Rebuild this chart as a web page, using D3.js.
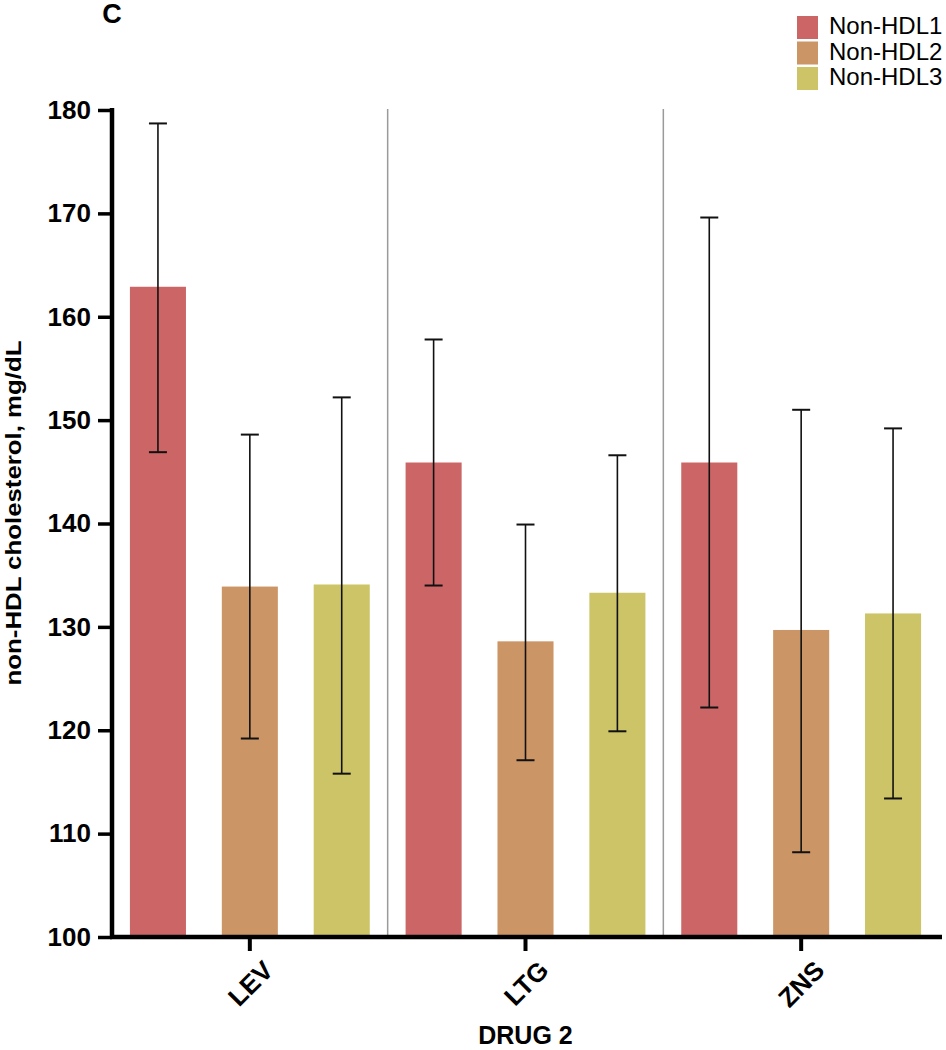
<!DOCTYPE html>
<html>
<head>
<meta charset="utf-8">
<script src="https://cdn.jsdelivr.net/npm/d3@7"></script>
<style>
  html, body { margin: 0; padding: 0; background: #fff; }
  svg { display: block; font-family: "Liberation Sans", Arial, Helvetica, sans-serif; }
</style>
</head>
<body>
<svg id="chart" width="946" height="1050"></svg>
<script>
// ---- data ----
const categories = ["LEV", "LTG", "ZNS"];
const seriesNames = ["Non-HDL1", "Non-HDL2", "Non-HDL3"];
const seriesColors = ["#cc6666", "#cc9566", "#ccc466"];
const meanHDL1 = [162.9, 145.9, 145.9];
const meanHDL2 = [133.9, 128.6, 129.7];
const meanHDL3 = [134.1, 133.3, 131.3];
const upperHDL1 = [178.7, 157.8, 169.6];
const upperHDL2 = [148.6, 139.9, 151.0];
const upperHDL3 = [152.2, 146.6, 149.2];
const lowerHDL1 = [146.9, 134.0, 122.2];
const lowerHDL2 = [119.2, 117.1, 108.2];
const lowerHDL3 = [115.8, 119.9, 113.4];
const yTicks = [100, 110, 120, 130, 140, 150, 160, 170, 180];
const yLabel = "non-HDL cholesterol, mg/dL";
const xLabel = "DRUG 2";
const panelLabel = "C";

const means = [meanHDL1, meanHDL2, meanHDL3];
const uppers = [upperHDL1, upperHDL2, upperHDL3];
const lowers = [lowerHDL1, lowerHDL2, lowerHDL3];

const rows = [];
categories.forEach((c, ci) => {
  seriesNames.forEach((s, si) => {
    rows.push({cat: c, series: s, si, mean: means[si][ci], hi: uppers[si][ci], lo: lowers[si][ci]});
  });
});

// ---- layout ----
const svg = d3.select("#chart");
const mLeft = 112, mRight = 939, mTop = 110, mBottom = 937;

const x0 = d3.scaleBand().domain(categories).range([mLeft, mRight]).padding(0);
const x1 = d3.scaleBand().domain(seriesNames).range([0, x0.bandwidth()]).padding(0);
const barW = x1.bandwidth() * 0.61;
const y = d3.scaleLinear().domain([100, 180]).range([mBottom, mTop]);
const color = d3.scaleOrdinal().domain(seriesNames).range(seriesColors);

// group dividers
svg.append("g").selectAll("line")
  .data(categories.slice(1))
  .join("line")
  .attr("x1", d => x0(d)).attr("x2", d => x0(d))
  .attr("y1", y(180) - 1).attr("y2", mBottom)
  .attr("stroke", "#9a9a9a").attr("stroke-width", 1.5);

// bars
svg.append("g").selectAll("rect")
  .data(rows)
  .join("rect")
  .attr("x", d => x0(d.cat) + x1(d.series) + (x1.bandwidth() - barW) / 2)
  .attr("width", barW)
  .attr("y", d => y(d.mean))
  .attr("height", d => y(100) - y(d.mean))
  .attr("fill", d => color(d.series));

// error bars
const eb = svg.append("g").attr("stroke", "#111");
const cx = d => x0(d.cat) + x1(d.series) + x1.bandwidth() / 2;
eb.selectAll("line.v").data(rows).join("line").attr("class", "v")
  .attr("x1", cx).attr("x2", cx)
  .attr("y1", d => y(d.hi)).attr("y2", d => y(d.lo))
  .attr("stroke-width", 1.6);
eb.selectAll("line.ct").data(rows).join("line").attr("class", "ct")
  .attr("x1", d => cx(d) - 9).attr("x2", d => cx(d) + 9)
  .attr("y1", d => y(d.hi)).attr("y2", d => y(d.hi))
  .attr("stroke-width", 2);
eb.selectAll("line.cb").data(rows).join("line").attr("class", "cb")
  .attr("x1", d => cx(d) - 9).attr("x2", d => cx(d) + 9)
  .attr("y1", d => y(d.lo)).attr("y2", d => y(d.lo))
  .attr("stroke-width", 2);

// y axis
const yAxis = svg.append("g")
  .attr("transform", `translate(${mLeft},0)`)
  .call(d3.axisLeft(y).tickValues(yTicks).tickSize(14).tickPadding(7).tickSizeOuter(0));
yAxis.select(".domain").remove();
yAxis.selectAll(".tick line").attr("stroke", "#000").attr("stroke-width", 3.5);
yAxis.selectAll(".tick text")
  .attr("fill", "#000").attr("font-size", 26).attr("font-weight", "bold")
  .attr("font-family", "Liberation Sans, Arial, sans-serif");
svg.append("line")
  .attr("x1", mLeft).attr("x2", mLeft)
  .attr("y1", mTop - 2).attr("y2", mBottom + 2)
  .attr("stroke", "#000").attr("stroke-width", 4.5);

// x axis
const xAxis = svg.append("g")
  .attr("transform", `translate(0,${mBottom})`)
  .call(d3.axisBottom(x0).tickSize(14).tickSizeOuter(0));
xAxis.select(".domain").remove();
xAxis.selectAll(".tick line").attr("stroke", "#000").attr("stroke-width", 4);
xAxis.selectAll(".tick text")
  .attr("fill", "#000").attr("font-size", 26).attr("font-weight", "bold")
  .attr("font-family", "Liberation Sans, Arial, sans-serif")
  .attr("text-anchor", "end")
  .attr("transform", "translate(12,22) rotate(-45)")
  .attr("dy", "0.7em").attr("y", 0);
svg.append("line")
  .attr("x1", mLeft - 2).attr("x2", 942)
  .attr("y1", mBottom).attr("y2", mBottom)
  .attr("stroke", "#000").attr("stroke-width", 4.5);

// axis titles
svg.append("text")
  .attr("transform", `translate(21,${513}) rotate(-90)`)
  .attr("text-anchor", "middle")
  .attr("font-size", 22).attr("font-weight", "bold")
  .attr("textLength", 345).attr("lengthAdjust", "spacingAndGlyphs")
  .text(yLabel);
svg.append("text")
  .attr("x", (mLeft + mRight) / 2).attr("y", 1044)
  .attr("text-anchor", "middle")
  .attr("font-size", 25).attr("font-weight", "bold")
  .text(xLabel);

// panel label
svg.append("text")
  .attr("x", 112).attr("y", 23)
  .attr("text-anchor", "middle")
  .attr("font-size", 27).attr("font-weight", "bold")
  .text(panelLabel);

// legend
const lg = svg.append("g");
const li = lg.selectAll("g").data(seriesNames).join("g")
  .attr("transform", (d, i) => `translate(797,${16 + i * 25.5})`);
li.append("rect").attr("width", 21).attr("height", 23).attr("fill", d => color(d));
li.append("text").attr("x", 32).attr("y", 18)
  .attr("font-size", 24).attr("fill", "#000").text(d => d);
</script>
</body>
</html>
